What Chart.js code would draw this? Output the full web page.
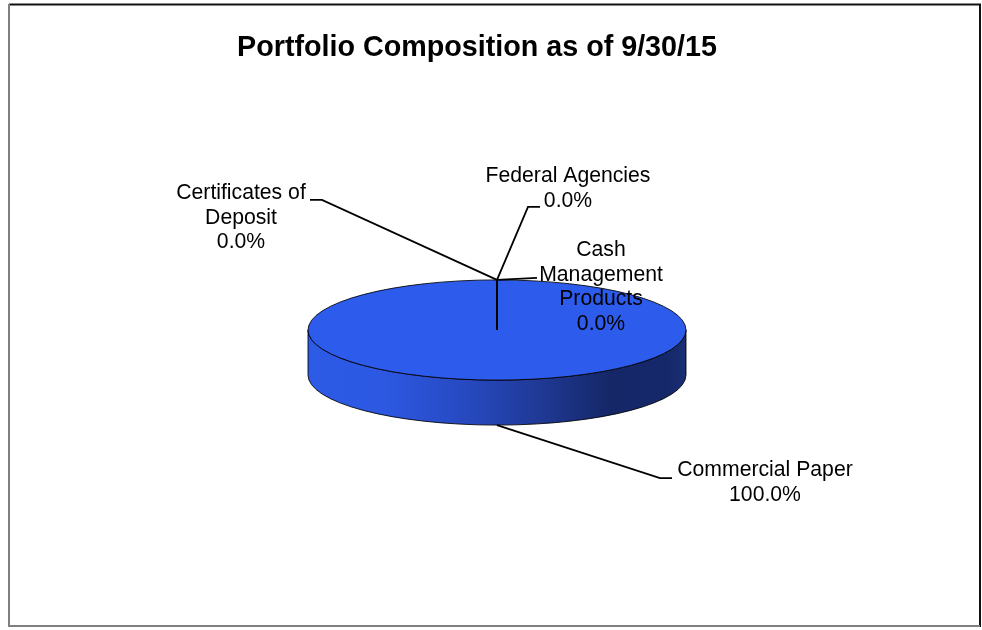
<!DOCTYPE html>
<html>
<head>
<meta charset="utf-8">
<title>Portfolio Composition as of 9/30/15</title>
<script src="https://cdn.jsdelivr.net/npm/chart.js@4.4.1/dist/chart.umd.min.js"></script>
<style>
  html, body { margin: 0; padding: 0; background: #fff; }
  #wrap { width: 982px; height: 630px; }
</style>
</head>
<body>
<div id="wrap"><canvas id="pieChart" width="982" height="630"></canvas></div>
<script>
// data
const chartTitle = 'Portfolio Composition as of 9/30/15';
const categories = ['Certificates of Deposit', 'Federal Agencies', 'Cash Management Products', 'Commercial Paper'];
const holdings = [0, 0, 0, 100];
// how each category name is broken over lines in the callouts
const labelLines = [
    ['Certificates of', 'Deposit'],
    ['Federal Agencies'],
    ['Cash', 'Management', 'Products'],
    ['Commercial Paper']
];

// look of the 3d disc
const tilt = 0.265;      // ry / rx
const depth = 45;        // height of the side wall
const topColor = '#2d5ced';

// callout placement, relative to the anchor point on the disc
// elbow = where the leader bends, end = end of short horizontal tick, text = centre of first line
const callouts = [
    { elbow: [-175, -80], end: [-187, -80], text: [-256, -87] },
    { elbow: [31, -73],   end: [43, -73],   text: [71, -104] },
    { elbow: null,        end: [40, -2],    text: [104, -30] },
    { elbow: [163, 53],   end: [175, 53],   text: [268, 45] }
];
const lineGap = 24.8;
const labelFont = '21.2px "Liberation Sans", Arial, sans-serif';

function pctText(v) {
    const total = holdings.reduce((a, b) => a + b, 0);
    return (total ? v / total * 100 : 0).toFixed(1) + '%';
}

// draws the frame, the side of the disc, flattens the pie, then callouts + title
const pie3d = {
    id: 'pie3d',
    beforeDraw(chart) {
        const ctx = chart.ctx;
        ctx.save();
        ctx.fillStyle = '#fff';
        ctx.fillRect(0, 0, chart.width, chart.height);
        // outer frame
        ctx.lineWidth = 2;
        ctx.strokeStyle = '#111';
        ctx.beginPath(); ctx.moveTo(9, 4.5); ctx.lineTo(981, 4.5); ctx.stroke();
        ctx.beginPath(); ctx.moveTo(980, 4); ctx.lineTo(980, 627); ctx.stroke();
        ctx.strokeStyle = '#7f7f7f';
        ctx.beginPath(); ctx.moveTo(9, 4); ctx.lineTo(9, 627); ctx.stroke();
        ctx.beginPath(); ctx.moveTo(9, 626); ctx.lineTo(980, 626); ctx.stroke();
        ctx.restore();
    },
    beforeDatasetsDraw(chart) {
        const ctx = chart.ctx;
        const a = chart.getDatasetMeta(0).data[0];
        const cx = a.x, cy = a.y, rx = a.outerRadius, ry = rx * tilt;

        // side wall
        const g = ctx.createLinearGradient(cx - rx, 0, cx + rx, 0);
        g.addColorStop(0, '#2d5be6');
        g.addColorStop(0.2, '#2c58e2');
        g.addColorStop(0.45, '#2647bb');
        g.addColorStop(0.6, '#203a98');
        g.addColorStop(0.8, '#152767');
        g.addColorStop(0.95, '#15286a');
        g.addColorStop(1, '#1a2e75');
        ctx.save();
        ctx.beginPath();
        ctx.moveTo(cx - rx, cy);
        ctx.lineTo(cx - rx, cy + depth);
        ctx.ellipse(cx, cy + depth, rx, ry, 0, Math.PI, 0, true);
        ctx.lineTo(cx + rx, cy);
        ctx.ellipse(cx, cy, rx, ry, 0, 0, Math.PI, false);
        ctx.closePath();
        ctx.fillStyle = g;
        ctx.fill();
        ctx.lineWidth = 1;
        ctx.strokeStyle = 'rgba(0,0,0,0.85)';
        ctx.stroke();
        ctx.restore();

        // squash the pie into an ellipse
        ctx.save();
        ctx.translate(0, cy);
        ctx.scale(1, tilt);
        ctx.translate(0, -cy);
    },
    afterDatasetsDraw(chart) {
        const ctx = chart.ctx;
        ctx.restore();
        const arcs = chart.getDatasetMeta(0).data;
        const cx = arcs[0].x, cy = arcs[0].y, rx = arcs[0].outerRadius, ry = rx * tilt;

        // outline of the top face
        ctx.save();
        ctx.lineWidth = 1;
        ctx.strokeStyle = 'rgba(0,0,0,0.85)';
        ctx.beginPath();
        ctx.ellipse(cx, cy, rx, ry, 0, 0, Math.PI * 2);
        ctx.stroke();
        // slice edges on the top face
        ctx.lineWidth = 1.8;
        ctx.strokeStyle = '#000';
        arcs.forEach(el => {
            ctx.beginPath();
            ctx.moveTo(cx, cy);
            ctx.lineTo(cx + rx * Math.cos(el.startAngle), cy + ry * Math.sin(el.startAngle));
            ctx.stroke();
        });

        // callouts
        ctx.font = labelFont;
        ctx.fillStyle = '#000';
        ctx.textAlign = 'center';
        ctx.textBaseline = 'middle';
        arcs.forEach((el, i) => {
            const mid = (el.startAngle + el.endAngle) / 2;
            let ax = cx + rx * Math.cos(mid);
            let ay = cy + ry * Math.sin(mid);
            if (Math.sin(mid) > 0.01) ay += depth;
            const c = callouts[i];
            ctx.beginPath();
            ctx.moveTo(ax, ay);
            if (c.elbow) ctx.lineTo(ax + c.elbow[0], ay + c.elbow[1]);
            ctx.lineTo(ax + c.end[0], ay + c.end[1]);
            ctx.stroke();
            const lines = labelLines[i].concat([pctText(holdings[i])]);
            lines.forEach((t, k) => {
                ctx.fillText(t, ax + c.text[0], ay + c.text[1] + k * lineGap);
            });
        });

        // title
        ctx.font = 'bold 28.7px "Liberation Sans", Arial, sans-serif';
        ctx.fillText(chartTitle, 477, 48);
        ctx.restore();
    }
};

const ctx = document.getElementById('pieChart').getContext('2d');
const myChart = new Chart(ctx, {
    type: 'pie',
    data: {
        labels: categories,
        datasets: [{
            data: holdings,
            backgroundColor: topColor,
            borderWidth: 0
        }]
    },
    options: {
        responsive: false,
        animation: false,
        devicePixelRatio: 1,
        events: [],
        layout: { padding: { left: 308, right: 296, top: 141, bottom: 111 } },
        plugins: {
            legend: { display: false },
            title: { display: false },
            tooltip: { enabled: false }
        }
    },
    plugins: [pie3d]
});
</script>
</body>
</html>
